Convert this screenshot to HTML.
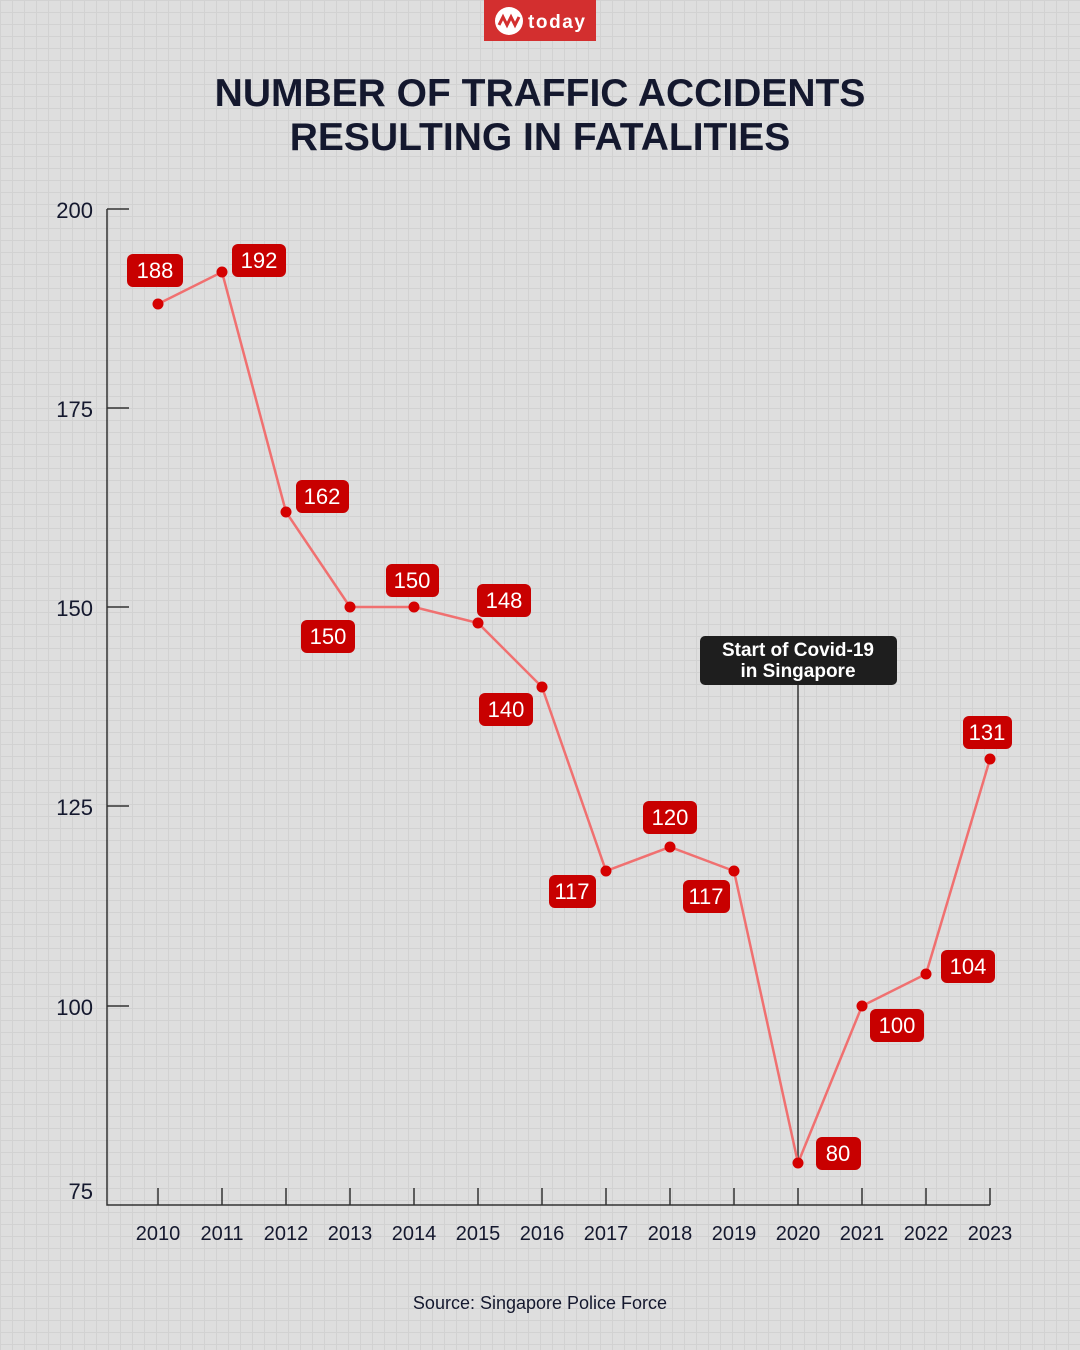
<!DOCTYPE html>
<html><head><meta charset="utf-8"><style>
body{margin:0;width:1080px;height:1350px;overflow:hidden;background-color:#dedede;
background-image:linear-gradient(#d2d2d2 1px,transparent 1px),linear-gradient(90deg,#d2d2d2 1px,transparent 1px);background-size:12px 12px;font-family:"Liberation Sans",sans-serif;}
</style></head><body>
<svg width="1080" height="1350" xmlns="http://www.w3.org/2000/svg" style="position:absolute;left:0;top:0;font-family:'Liberation Sans',sans-serif">
<rect x="484" y="0" width="112" height="41" fill="#d32f2f"/>
<circle cx="509" cy="21" r="14" fill="#fff"/>
<path d="M499 25 L503 17 L507 25 L511 17 L515 25 L519 17" stroke="#d32f2f" stroke-width="3" fill="none"/>
<text x="528" y="28" fill="#fff" font-size="19" font-weight="bold" textLength="57">today</text>
<text x="540" y="106" text-anchor="middle" font-size="39" font-weight="bold" fill="#14182e">NUMBER OF TRAFFIC ACCIDENTS</text>
<text x="540" y="150" text-anchor="middle" font-size="39" font-weight="bold" fill="#14182e">RESULTING IN FATALITIES</text>
<g stroke="#333" stroke-width="1.5" fill="none">
<path d="M107 209 V1205 H990"/>
<path d="M107 209 H129 M107 408 H129 M107 607 H129 M107 806 H129 M107 1006 H129"/>
<path d="M158 1188V1205 M222 1188V1205 M286 1188V1205 M350 1188V1205 M414 1188V1205 M478 1188V1205 M542 1188V1205 M606 1188V1205 M670 1188V1205 M734 1188V1205 M798 1188V1205 M862 1188V1205 M926 1188V1205 M990 1188V1205"/>
<path d="M798 685 V1163"/>
</g>
<g font-size="22" fill="#14182e" text-anchor="end">
<text x="93" y="218">200</text><text x="93" y="417">175</text><text x="93" y="616">150</text><text x="93" y="815">125</text><text x="93" y="1015">100</text><text x="93" y="1199">75</text>
</g>
<g font-size="20" fill="#14182e" text-anchor="middle">
<text x="158" y="1240">2010</text><text x="222" y="1240">2011</text><text x="286" y="1240">2012</text><text x="350" y="1240">2013</text><text x="414" y="1240">2014</text><text x="478" y="1240">2015</text><text x="542" y="1240">2016</text><text x="606" y="1240">2017</text><text x="670" y="1240">2018</text><text x="734" y="1240">2019</text><text x="798" y="1240">2020</text><text x="862" y="1240">2021</text><text x="926" y="1240">2022</text><text x="990" y="1240">2023</text>
</g>
<text x="540" y="1309" text-anchor="middle" font-size="18" fill="#14182e">Source: Singapore Police Force</text>
<rect x="700" y="636" width="197" height="49" rx="5" fill="#1e1e1e"/>
<text x="798" y="656" text-anchor="middle" font-size="19" font-weight="bold" fill="#fff">Start of Covid-19</text>
<text x="798" y="677" text-anchor="middle" font-size="19" font-weight="bold" fill="#fff">in Singapore</text>
<polyline fill="none" stroke="#f07070" stroke-width="2.5" points="158,304 222,272 286,512 350,607 414,607 478,623 542,687 606,871 670,847 734,871 798,1163 862,1006 926,974 990,759"/>
<g fill="#d50000">
<circle cx="158" cy="304" r="5.5"/><circle cx="222" cy="272" r="5.5"/><circle cx="286" cy="512" r="5.5"/><circle cx="350" cy="607" r="5.5"/><circle cx="414" cy="607" r="5.5"/><circle cx="478" cy="623" r="5.5"/><circle cx="542" cy="687" r="5.5"/><circle cx="606" cy="871" r="5.5"/><circle cx="670" cy="847" r="5.5"/><circle cx="734" cy="871" r="5.5"/><circle cx="798" cy="1163" r="5.5"/><circle cx="862" cy="1006" r="5.5"/><circle cx="926" cy="974" r="5.5"/><circle cx="990" cy="759" r="5.5"/>
</g>
<g fill="#c80000">
<rect x="127" y="254" width="56" height="33" rx="6"/><rect x="232" y="244" width="54" height="33" rx="6"/><rect x="296" y="480" width="53" height="33" rx="6"/><rect x="301" y="620" width="54" height="33" rx="6"/><rect x="386" y="564" width="53" height="33" rx="6"/><rect x="477" y="584" width="54" height="33" rx="6"/><rect x="479" y="693" width="54" height="33" rx="6"/><rect x="549" y="875" width="47" height="33" rx="6"/><rect x="643" y="801" width="54" height="33" rx="6"/><rect x="683" y="880" width="47" height="33" rx="6"/><rect x="816" y="1137" width="45" height="33" rx="6"/><rect x="870" y="1009" width="54" height="33" rx="6"/><rect x="941" y="950" width="54" height="33" rx="6"/><rect x="963" y="716" width="49" height="33" rx="6"/>
</g>
<g font-size="22" fill="#fff" text-anchor="middle">
<text x="155" y="278">188</text><text x="259" y="268">192</text><text x="322" y="504">162</text><text x="328" y="644">150</text><text x="412" y="588">150</text><text x="504" y="608">148</text><text x="506" y="717">140</text><text x="572" y="899">117</text><text x="670" y="825">120</text><text x="706" y="904">117</text><text x="838" y="1161">80</text><text x="897" y="1033">100</text><text x="968" y="974">104</text><text x="987" y="740">131</text>
</g>
</svg>
</body></html>
